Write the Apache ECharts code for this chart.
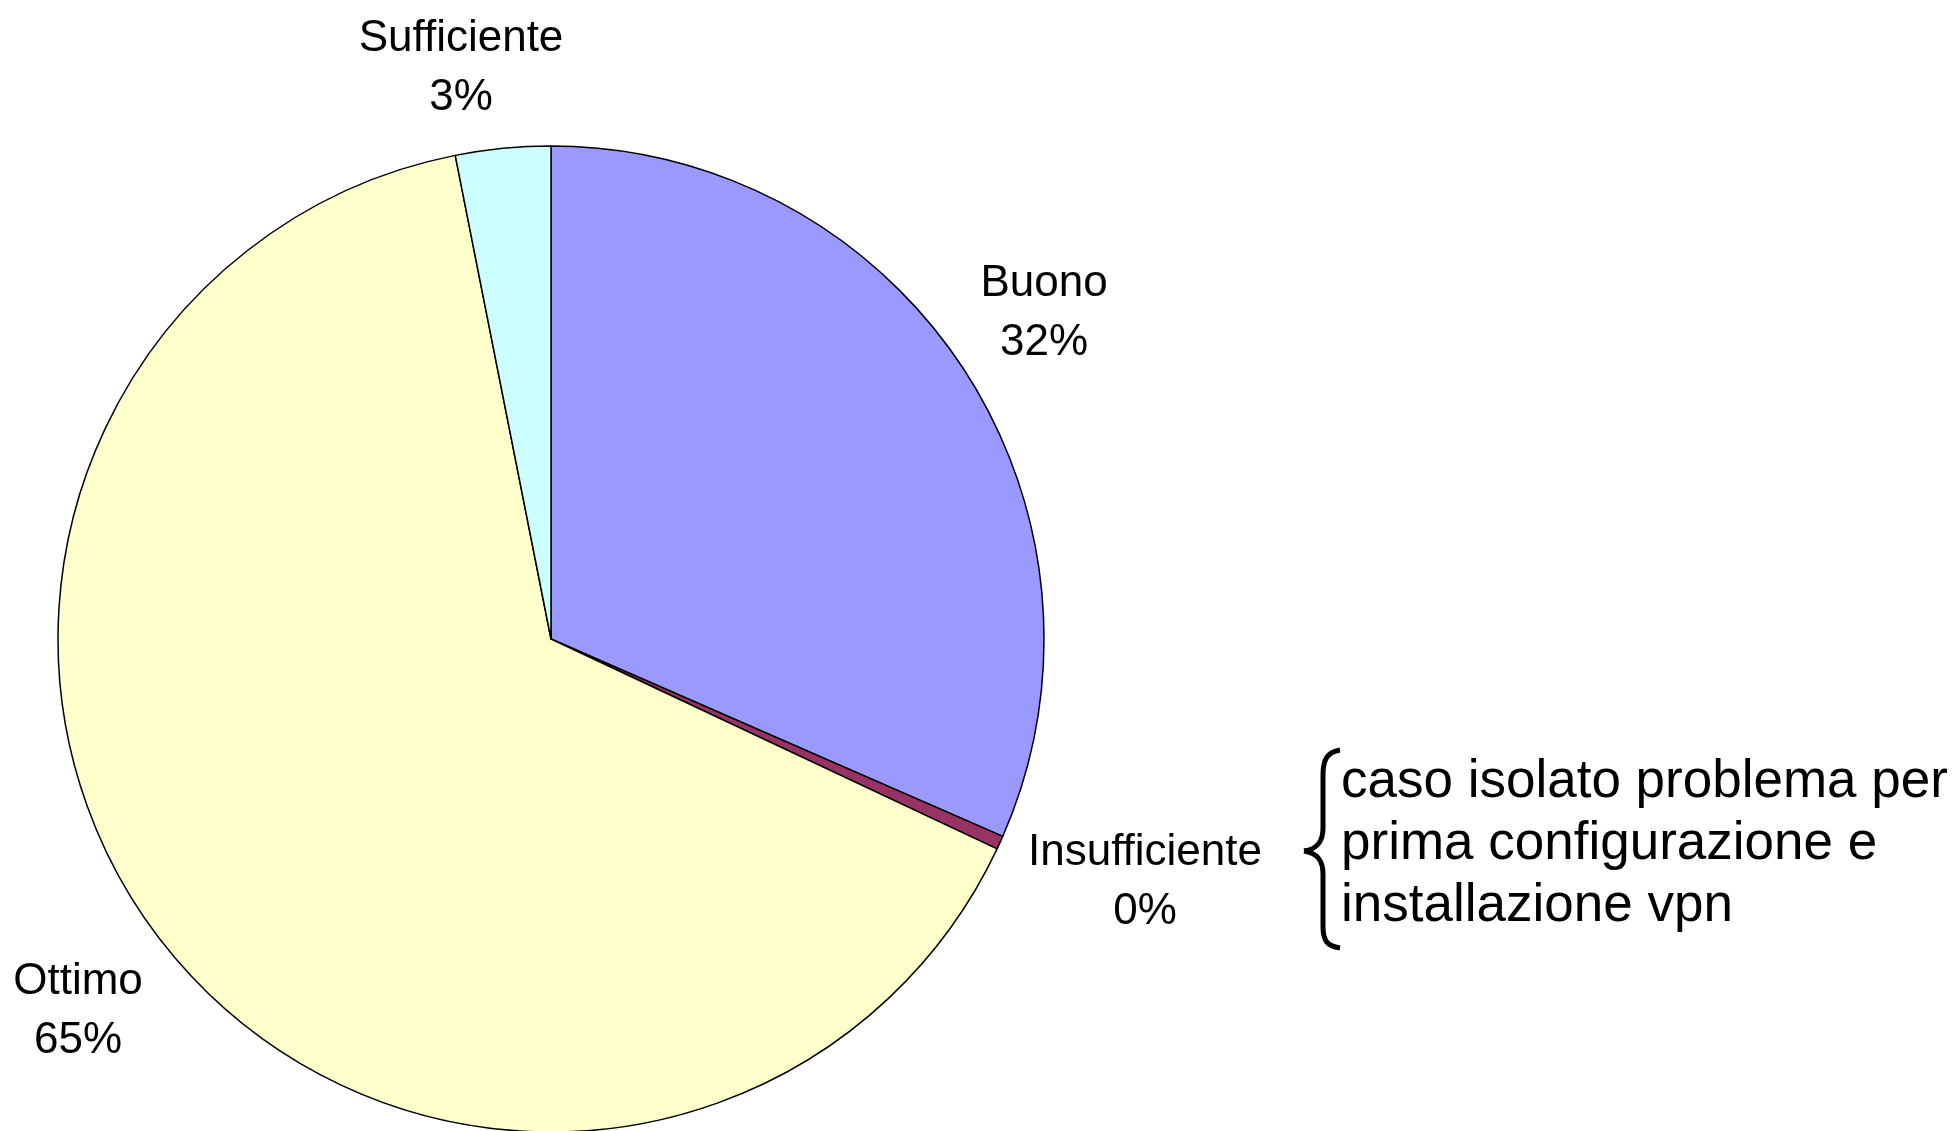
<!DOCTYPE html>
<html>
<head>
<meta charset="utf-8">
<script src="https://cdn.jsdelivr.net/npm/echarts@6/dist/echarts.min.js"></script>
<style>
html,body{margin:0;padding:0;background:#fff;}
#chart{width:1953px;height:1131px;}
</style>
</head>
<body>
<div id="chart"></div>
<script>
// Data (counts)
const categories = ['Buono', 'Insufficiente', 'Ottimo', 'Sufficiente'];
const counts = [71, 1, 146, 7];
const colors = ['#9999FF', '#993366', '#FFFFCC', '#CCFFFF'];
const noteLines = ['caso isolato problema per', 'prima configurazione e', 'installazione vpn'];

// Label placement (layout only)
const labelPos = [[1044, 313], [1145, 882], [78, 1011], [461, 68]];

const chart = echarts.init(document.getElementById('chart'), null, {renderer: 'canvas'});
const FONT = '"Liberation Sans", Arial, sans-serif';

const braceStyle = {stroke: '#000000', lineWidth: 5, fill: null};
function bz(x1, y1, cx1, cy1, cx2, cy2, x2, y2) {
  return {type: 'bezierCurve', shape: {x1, y1, cpx1: cx1, cpy1: cy1, cpx2: cx2, cpy2: cy2, x2, y2}, style: braceStyle};
}
function ln(x1, y1, x2, y2) {
  return {type: 'line', shape: {x1, y1, x2, y2}, style: braceStyle};
}

chart.setOption({
  backgroundColor: '#ffffff',
  animation: false,
  series: [{
    type: 'pie',
    center: [551, 639],
    radius: [0, 493],
    startAngle: 90,
    clockwise: true,
    percentPrecision: 0,
    avoidLabelOverlap: false,
    data: categories.map((c, i) => ({name: c, value: counts[i], itemStyle: {color: colors[i]}})),
    itemStyle: {borderColor: '#000000', borderWidth: 1.5},
    label: {
      show: true,
      position: 'outside',
      formatter: '{b}\n{d}%',
      fontFamily: FONT,
      fontSize: 44,
      lineHeight: 59,
      color: '#000000',
      align: 'center'
    },
    labelLine: {show: false},
    labelLayout: function (p) {
      const pos = labelPos[p.dataIndex];
      return {x: pos[0], y: pos[1], align: 'center', verticalAlign: 'middle'};
    },
    emphasis: {disabled: true}
  }],
  graphic: [
    bz(1340, 750, 1327, 752, 1323, 760, 1323, 775),
    ln(1323, 775, 1323, 828),
    bz(1323, 828, 1323, 842, 1317, 849, 1304, 851),
    bz(1304, 851, 1317, 853, 1323, 860, 1323, 874),
    ln(1323, 874, 1323, 926),
    bz(1323, 926, 1323, 941, 1327, 946, 1340, 948),
    {
      type: 'text',
      left: 1341,
      top: 751,
      style: {
        text: noteLines.join('\n'),
        font: '53px "Liberation Sans", Arial, sans-serif',
        lineHeight: 62,
        fill: '#000000'
      }
    }
  ]
});
</script>
</body>
</html>
